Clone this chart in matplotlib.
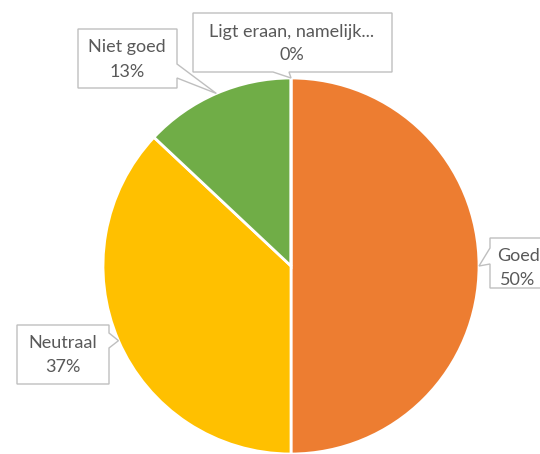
import numpy as np
import matplotlib
matplotlib.use("Agg")
import matplotlib.pyplot as plt
from matplotlib.patches import Polygon

categories = ["Goed", "Neutraal", "Niet goed", "Ligt eraan, namelijk..."]
values = [50, 37, 13, 0]
pct_labels = ["50%", "37%", "13%", "0%"]
colors = ["#ED7D31", "#FFC000", "#70AD47", "#4472C4"]

W, H = 540, 454
fig = plt.figure(figsize=(W / 100, H / 100), dpi=100)
ax = fig.add_axes([0, 0, 1, 1])

cx, cy, r = 291, H - 266, 188
ax.pie(values, colors=colors, startangle=90, counterclock=False,
       center=(cx, cy), radius=r, frame=True,
       wedgeprops=dict(edgecolor="white", linewidth=2))
ax.set_xlim(0, W)
ax.set_ylim(0, H)
ax.set_aspect("equal")
ax.axis("off")

# callout layout (pixel coords, y downward): box, side of tab, tab span
layout = {
    "Goed": dict(box=(490, 238, 570, 288), side="left", span=(248, 264), text=(518, 256, 280)),
    "Neutraal": dict(box=(17, 325, 109, 384), side="right", span=(333, 348), text=(63, 343, 367)),
    "Niet goed": dict(box=(78, 29, 177, 88), side="right", span=(64, 78), text=(127, 47, 72)),
    "Ligt eraan, namelijk...": dict(box=(193, 13, 392, 72), side="bottom", span=(273, 289), text=(292, 32, 55)),
}

total = sum(values)
cum = 0.0
Y = lambda p: H - p
for cat, v, pl in zip(categories, values, pct_labels):
    mid = (cum + v / 2) / total * 360.0
    cum += v
    ang = np.deg2rad(90 - mid)
    tip = (cx + r * np.cos(ang), cy + r * np.sin(ang))
    L = layout[cat]
    x0, y0, x1, y1 = L["box"]
    a, b = L["span"]
    if L["side"] == "left":
        pts = [(x0, Y(y0)), (x1, Y(y0)), (x1, Y(y1)), (x0, Y(y1)), (x0, Y(b)), tip, (x0, Y(a))]
    elif L["side"] == "right":
        pts = [(x0, Y(y0)), (x1, Y(y0)), (x1, Y(a)), tip, (x1, Y(b)), (x1, Y(y1)), (x0, Y(y1))]
    else:  # bottom
        pts = [(x0, Y(y0)), (x1, Y(y0)), (x1, Y(y1)), (b, Y(y1)), tip, (a, Y(y1)), (x0, Y(y1))]
    ax.add_patch(Polygon(pts, closed=True, facecolor="white", edgecolor="#BFBFBF",
                         linewidth=1.0, zorder=5))
    xt, yl1, yl2 = L["text"]
    ax.text(xt, Y(yl1), cat, ha="center", va="center", fontsize=13,
            family="Lato", color="#595959", zorder=6)
    ax.text(xt, Y(yl2), pl, ha="center", va="center", fontsize=13,
            family="Lato", color="#595959", zorder=6)

fig.savefig("out.png", dpi=100)
